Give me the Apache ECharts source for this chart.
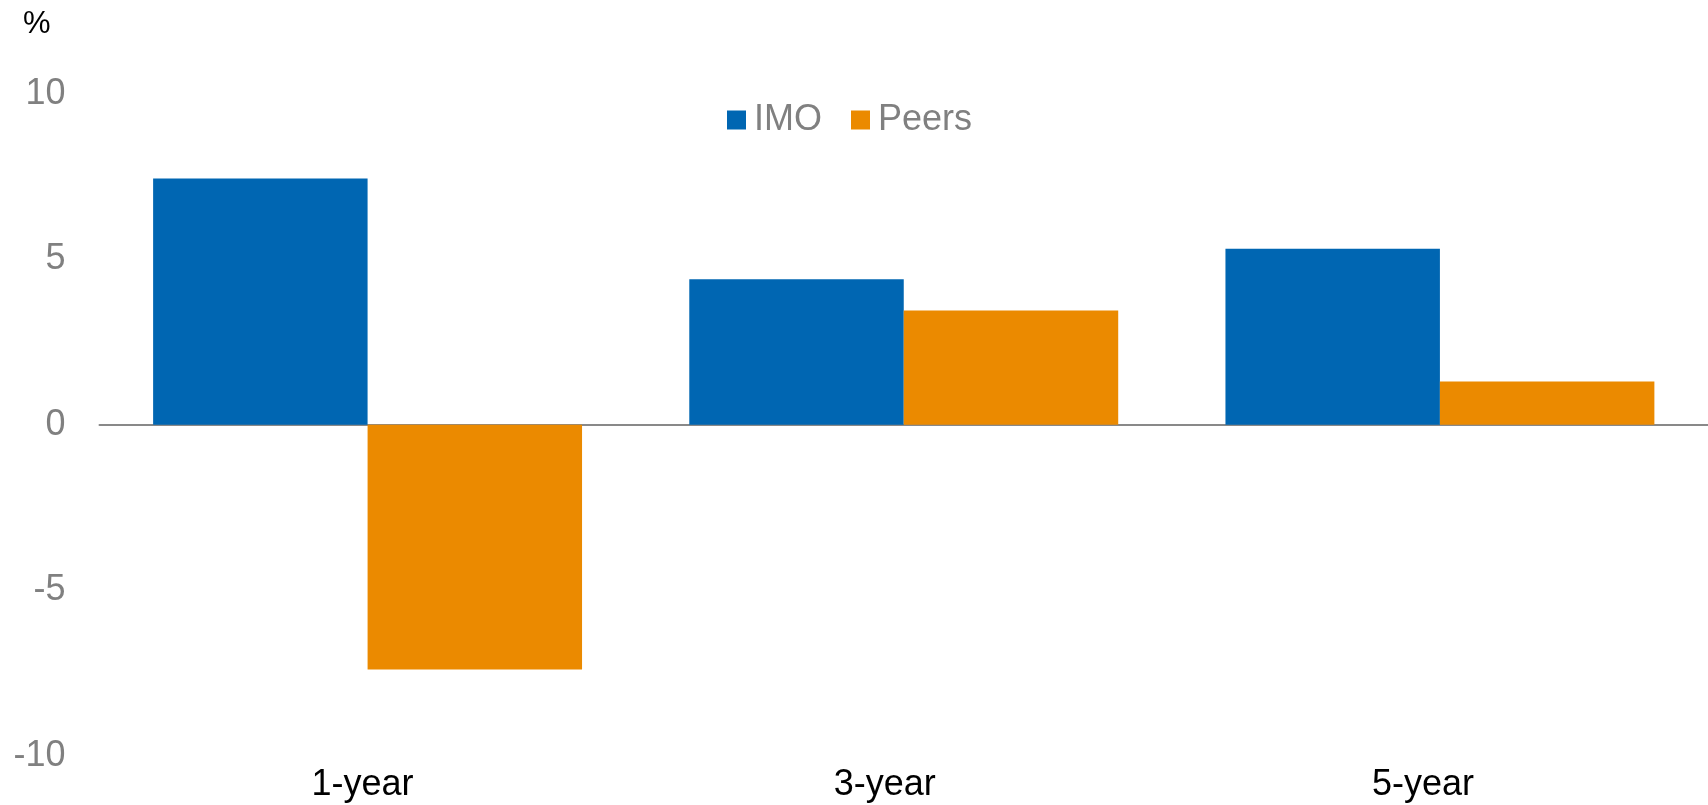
<!DOCTYPE html>
<html>
<head>
<meta charset="utf-8">
<script src="https://cdn.jsdelivr.net/npm/echarts@6/dist/echarts.min.js"></script>
<style>
html,body{margin:0;padding:0;background:#fff;}
#chart{width:1708px;height:805px;}
</style>
</head>
<body>
<div id="chart"></div>
<script>
const categories = ['1-year', '3-year', '5-year'];
const imoValues = [7.44, 4.40, 5.32];
const peersValues = [-7.39, 3.45, 1.31];
const yTicks = [-10, -5, 0, 5, 10];
const seriesNames = ['IMO', 'Peers'];

const labelFont = { fontFamily: 'Liberation Sans', fontSize: 36, color: '#000' };
const labelShift = [10, 38, 34];
const rich = {};
labelShift.forEach((s, i) => { rich['c' + i] = Object.assign({ padding: [0, s, 0, 0] }, labelFont); });

const chart = echarts.init(document.getElementById('chart'));
chart.setOption({
  animation: false,
  grid: { left: 99.5, right: -3.5, top: 93.7, bottom: 805 - 756 },
  legend: {
    data: seriesNames,
    left: 722,
    top: 97,
    itemWidth: 19,
    itemHeight: 19,
    itemGap: 29,
    icon: 'rect',
    textStyle: { fontFamily: 'Liberation Sans', fontSize: 36, color: '#808080', padding: [0, 0, 0, 3] }
  },
  xAxis: {
    type: 'category',
    data: categories,
    axisTick: { show: false },
    axisLine: { show: true, onZero: true, lineStyle: { color: '#898989', width: 2 } },
    axisLabel: Object.assign({ margin: 11, interval: 0, rich: rich,
      formatter: (v, i) => '{c' + i + '|' + v + '}' }, labelFont)
  },
  yAxis: {
    type: 'value',
    min: yTicks[0],
    max: yTicks[yTicks.length - 1],
    interval: 5,
    name: '%',
    nameLocation: 'end',
    nameGap: 54,
    nameTextStyle: { fontFamily: 'Liberation Sans', fontSize: 31, color: '#000', align: 'right', padding: [0, 49, 0, 0] },
    axisLine: { show: false },
    axisTick: { show: false },
    splitLine: { show: false },
    axisLabel: { fontFamily: 'Liberation Sans', fontSize: 36, color: '#808080', margin: 34 }
  },
  series: [
    { name: seriesNames[0], type: 'bar', data: imoValues, barGap: '0%', barCategoryGap: '20%', itemStyle: { color: '#0066B2' } },
    { name: seriesNames[1], type: 'bar', data: peersValues, barGap: '0%', barCategoryGap: '20%', itemStyle: { color: '#EB8A00' } }
  ]
});
</script>
</body>
</html>
